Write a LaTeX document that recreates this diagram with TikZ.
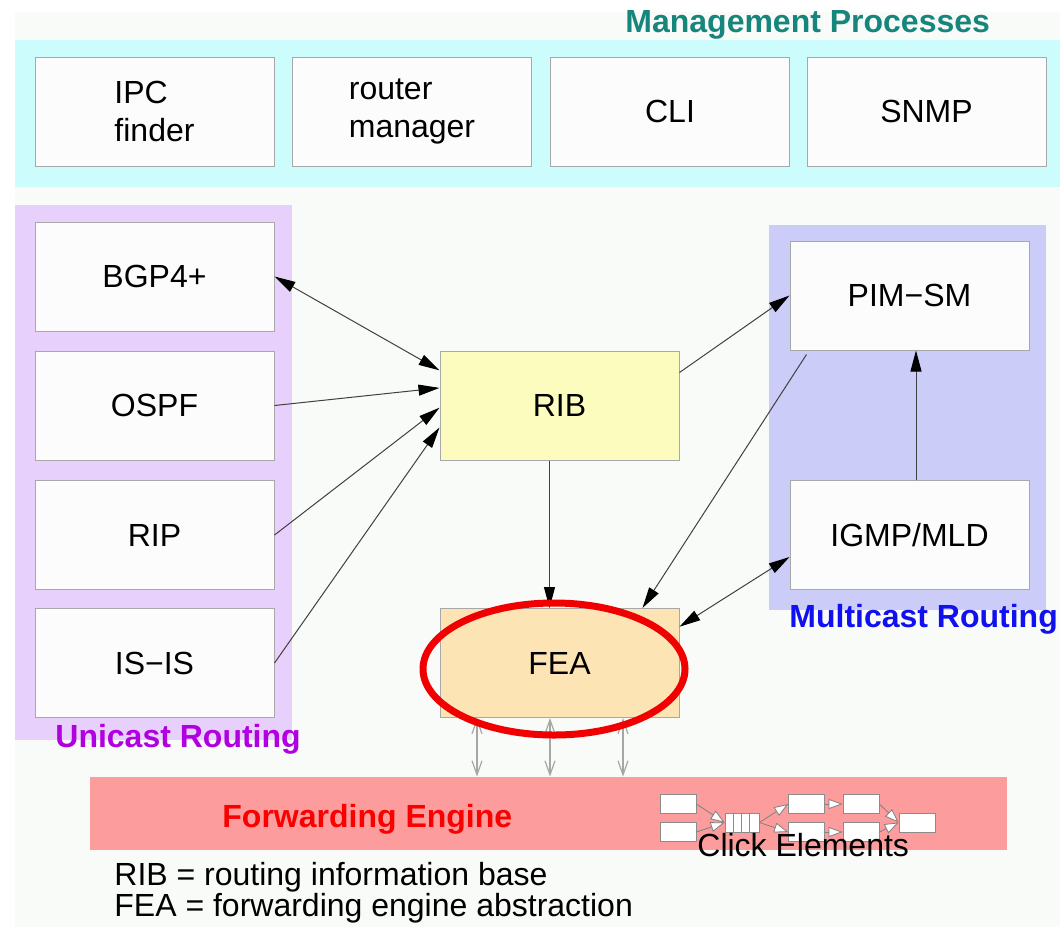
\documentclass[tikz,border=0pt]{standalone}
\usepackage{fontspec}
\setmainfont{Liberation Sans}
\usetikzlibrary{arrows.meta,calc,shapes.geometric}

\definecolor{paper}{RGB}{249,251,249}
\definecolor{boxfill}{RGB}{251,252,251}
\definecolor{mgmtband}{RGB}{204,252,252}
\definecolor{uniband}{RGB}{232,208,252}
\definecolor{multiband}{RGB}{204,204,248}
\definecolor{ribfill}{RGB}{252,252,190}
\definecolor{feafill}{RGB}{252,228,180}
\definecolor{fefill}{RGB}{252,156,156}
\definecolor{mgmttext}{RGB}{22,134,124}
\definecolor{unitext}{RGB}{176,0,224}
\definecolor{multitext}{RGB}{16,16,240}
\definecolor{fetext}{RGB}{250,0,0}
\definecolor{ringred}{RGB}{240,0,0}
\definecolor{edgegray}{RGB}{168,168,168}

\tikzset{
  txt/.style={font=\fontsize{16}{19}\selectfont},
  bandlabel/.style={font=\fontsize{16}{19}\selectfont\bfseries, anchor=base west, inner sep=0pt},
  proc/.style={txt, draw=edgegray, line width=0.5pt, fill=boxfill,
    minimum width=119.5pt, minimum height=54.5pt, inner sep=0pt, align=left},
  core/.style={proc, fill=#1},
  tip/.tip={Triangle[length=10.5pt,width=5.5pt,color=black]},
  conn/.style={draw=black!75, line width=0.5pt, -tip},
  biconn/.style={draw=black!75, line width=0.5pt, tip-tip},
  ioarrow/.style={draw=black!35, line width=0.6pt, {Straight Barb[length=7pt,width=5pt]}-{Straight Barb[length=7pt,width=5pt]}},
  elem/.style={draw=black!45, line width=0.4pt, fill=white, minimum width=18pt, minimum height=9.5pt, inner sep=0pt},
  elemflow/.style={draw=black!50, line width=0.4pt, -{Triangle[length=7pt,width=5pt,fill=white]}},
}

\begin{document}
\begin{tikzpicture}[x=0.5pt, y=-0.5pt]
\useasboundingbox (0,0) rectangle (1060,927);
\fill[paper] (15,12) rectangle (1060,927);

% grouping bands
\fill[mgmtband] (15,40) rectangle (1060,187);
\fill[uniband] (15,205) rectangle (292,740);
\fill[multiband] (769,225) rectangle (1046,610);
\node[fill=fefill, draw=none, minimum width=458.5pt, minimum height=36.5pt, inner sep=0pt] (fe) at (548.5,813.5) {};

% band titles
\node[bandlabel, text=mgmttext] (mgmtlbl) at (625,32) {Management Processes};
\node[bandlabel, text=unitext] (unilbl) at (55,747) {Unicast Routing};
\node[bandlabel, text=multitext] (multilbl) at (789,627) {Multicast Routing};
\node[bandlabel, text=fetext] (felbl) at (222,827) {Forwarding Engine};

% management processes
\node[proc] (ipc) at (154.5,111.5) {IPC\\finder};
\node[proc] (rtrmgr) at (412,111.5) {router\\manager};
\node[proc] (cli) at (670,111.5) {CLI};
\node[proc] (snmp) at (926.5,111.5) {SNMP};

% unicast routing protocols
\node[proc] (bgp) at (154.5,276.5) {BGP4+};
\node[proc] (ospf) at (154.5,405.5) {OSPF};
\node[proc] (rip) at (154.5,535) {RIP};
\node[proc] (isis) at (154.5,663) {IS−IS};

% multicast routing protocols
\node[proc] (pim) at (909.5,295.5) {PIM−SM};
\node[proc] (igmp) at (909.5,535) {IGMP/MLD};

% core processes
\node[core=ribfill] (rib) at (559.5,405.5) {RIB};
\node[core=feafill] (fea) at (559.5,663) {FEA};

% connectors
\draw[biconn] (bgp.east) -- ($(rib.north west)!0.18!(rib.south west)$);
\draw[conn] (ospf.east) -- ($(rib.north west)!0.34!(rib.south west)$);
\draw[conn] (rip.east) -- ($(rib.north west)!0.52!(rib.south west)$);
\draw[conn] (isis.east) -- ($(rib.north west)!0.70!(rib.south west)$);
\draw[conn] ($(rib.north east)!0.2!(rib.south east)$) -- (pim.west);
\draw[conn] ([xshift=-5pt]rib.south) -- ([xshift=-5pt]fea.north);
\draw[conn] ([xshift=8.5pt,yshift=-2pt]pim.south west) -- ([xshift=-18.5pt]fea.north east);
\draw[biconn] ($(igmp.north west)!0.7!(igmp.south west)$) -- ($(fea.north east)!0.17!(fea.south east)$);
\draw[conn] ([xshift=3.25pt]igmp.north) -- ([xshift=3.25pt]pim.south);

% FEA <-> forwarding engine
\draw[ioarrow] ([xshift=-41.25pt]fea.south) -- ([xshift=-41.25pt]fea.south |- fe.north);
\draw[ioarrow] ([xshift=-4.75pt]fea.south) -- ([xshift=-4.75pt]fea.south |- fe.north);
\draw[ioarrow] ([xshift=31.75pt]fea.south) -- ([xshift=31.75pt]fea.south |- fe.north);

% click element graph
\node[elem] (ce1) at (678,804) {};
\node[elem] (ce2) at (678,832) {};
\node[elem, minimum width=17pt] (queue) at (742,822.5) {};
\draw[draw=black!45, line width=0.4pt] (733,813) -- (733,832) (741,813) -- (741,832) (749,813) -- (749,832);
\node[elem] (ce3) at (806.5,804) {};
\node[elem] (ce4) at (806.5,832) {};
\node[elem] (ce5) at (861,804) {};
\node[elem] (ce6) at (861,832) {};
\node[elem] (ce7) at (917,822.5) {};
\draw[elemflow] (ce1.east) -- (queue.west);
\draw[elemflow] (ce2.east) -- (queue.west);
\draw[elemflow] (queue.east) -- (ce3.west);
\draw[elemflow] (queue.east) -- (ce4.west);
\draw[elemflow] (ce3.east) -- (ce5.west);
\draw[elemflow] (ce4.east) -- (ce6.west);
\draw[elemflow] (ce5.east) -- (ce7.west);
\draw[elemflow] (ce6.east) -- (ce7.west);
\node[txt, anchor=base west, inner sep=0pt] (clicklbl) at (697,856) {Click Elements};

% legend
\node[txt, anchor=base west, inner sep=0pt] (legrib) at (114,885) {RIB = routing information base};
\node[txt, anchor=base west, inner sep=0pt] (legfea) at (114,916) {FEA = forwarding engine abstraction};

% highlight ring
\draw[ringred, line width=3.5pt] (554,669) ellipse [x radius=131, y radius=66];
\end{tikzpicture}
\end{document}
